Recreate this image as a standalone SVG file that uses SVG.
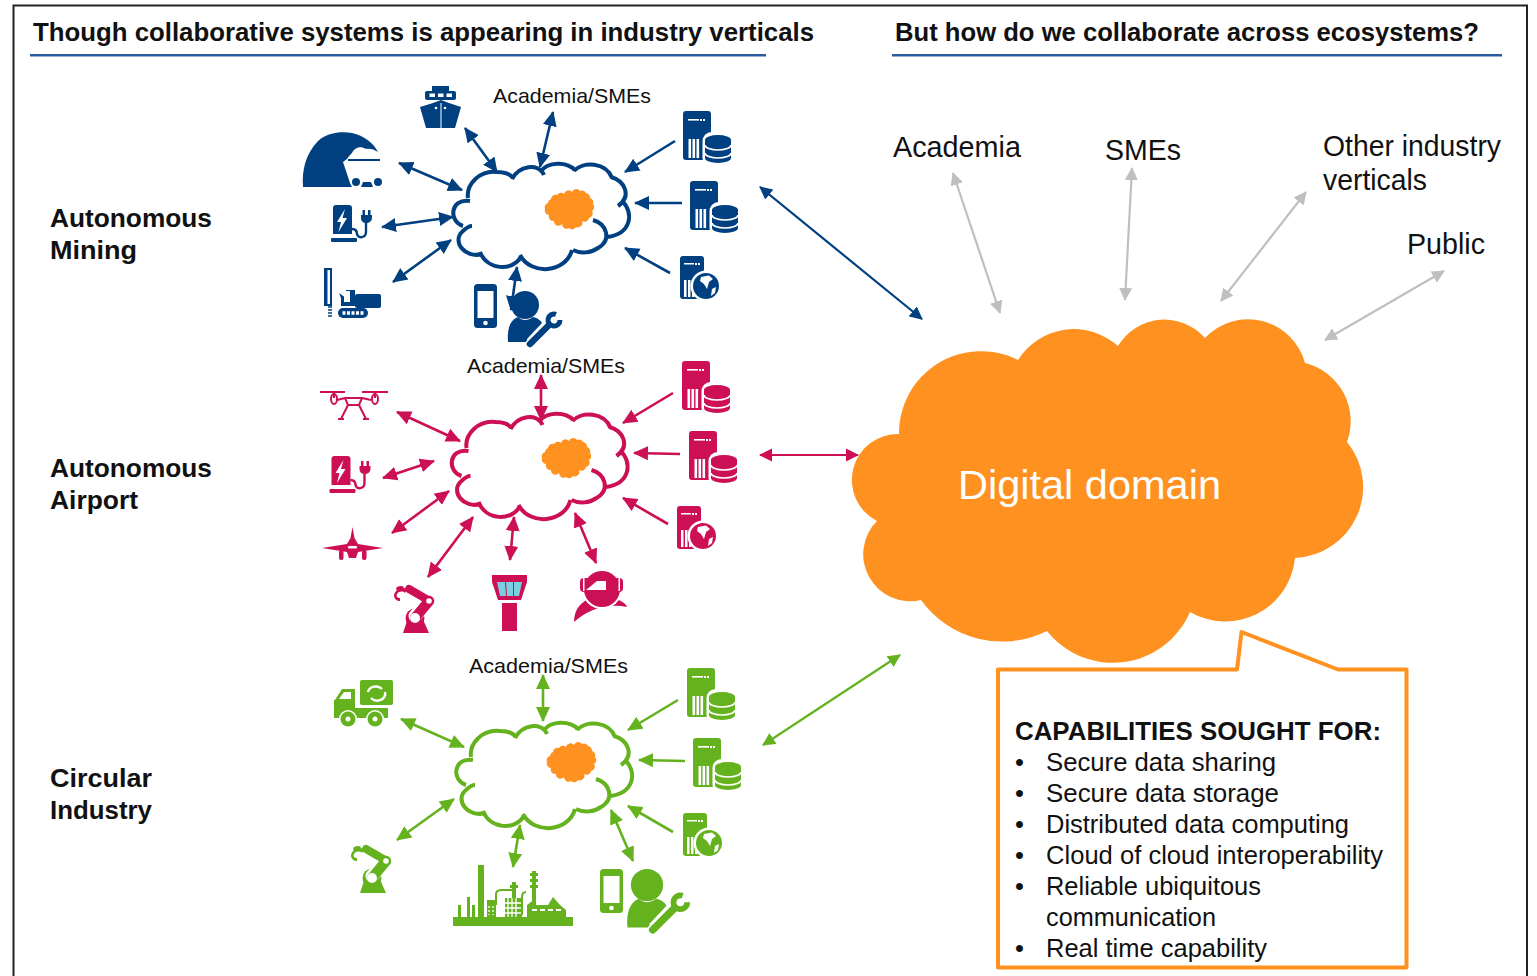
<svg xmlns="http://www.w3.org/2000/svg" width="1537" height="976" viewBox="0 0 1537 976">
<style>
text{font-family:"Liberation Sans",Arial,sans-serif;fill:#111}
.h{font-weight:700;font-size:26px}
.l{font-weight:700;font-size:25.5px}
.s{font-size:21px}
.m{font-size:29px}
.c{font-size:25.5px}
.navy{color:#004080}.pink{color:#cd0f55}.green{color:#65b21f}
.f{fill:currentColor}.w{fill:#fff}
.a{stroke-width:2.6;fill:none}
.b{stroke-width:2.2}
.an{stroke:#004080}.ap{stroke:#cd0f55}.ag{stroke:#65b21f}.ay{stroke:#bfbfbf}
</style>
<defs>
<marker id="mn" viewBox="0 0 16 16" markerWidth="16" markerHeight="16" markerUnits="userSpaceOnUse" refX="14" refY="8" orient="auto-start-reverse"><path d="M0,1L15,8L0,15Z" fill="#004080"/></marker>
<marker id="mp" viewBox="0 0 16 16" markerWidth="16" markerHeight="16" markerUnits="userSpaceOnUse" refX="14" refY="8" orient="auto-start-reverse"><path d="M0,1L15,8L0,15Z" fill="#cd0f55"/></marker>
<marker id="mg" viewBox="0 0 16 16" markerWidth="16" markerHeight="16" markerUnits="userSpaceOnUse" refX="14" refY="8" orient="auto-start-reverse"><path d="M0,1L15,8L0,15Z" fill="#65b21f"/></marker>
<marker id="mnb" viewBox="0 0 14 14" markerWidth="14" markerHeight="14" markerUnits="userSpaceOnUse" refX="12" refY="7" orient="auto-start-reverse"><path d="M0,0.5L13,7L0,13.5Z" fill="#004080"/></marker>
<marker id="mpb" viewBox="0 0 14 14" markerWidth="14" markerHeight="14" markerUnits="userSpaceOnUse" refX="12" refY="7" orient="auto-start-reverse"><path d="M0,0.5L13,7L0,13.5Z" fill="#cd0f55"/></marker>
<marker id="mgb" viewBox="0 0 14 14" markerWidth="14" markerHeight="14" markerUnits="userSpaceOnUse" refX="12" refY="7" orient="auto-start-reverse"><path d="M0,0.5L13,7L0,13.5Z" fill="#65b21f"/></marker>
<marker id="my" viewBox="0 0 14 14" markerWidth="14" markerHeight="14" markerUnits="userSpaceOnUse" refX="12" refY="7" orient="auto-start-reverse"><path d="M0,0.5L13,7L0,13.5Z" fill="#bfbfbf"/></marker>
<g id="srv">
<rect width="28" height="49" rx="3" class="f"/>
<rect x="5" y="8" width="11" height="1.6" class="w"/><rect x="17" y="8" width="2" height="2" class="w"/><rect x="20" y="8" width="2" height="2" class="w"/>
<rect x="5.5" y="28" width="2.6" height="19" class="w"/><rect x="9.5" y="28" width="2.6" height="19" class="w"/><rect x="13.5" y="28" width="2.6" height="19" class="w"/>
</g>
<g id="srvdb">
<use href="#srv"/>
<rect x="19.5" y="21" width="31" height="35" rx="9" class="w"/>
<path d="M22,29a13,5 0 0 1 26,0V47a13,5 0 0 1 -26,0Z" class="f"/>
<path d="M22,34a13,5 0 0 0 26,0M22,42a13,5 0 0 0 26,0" fill="none" stroke="#fff" stroke-width="1.7"/>
</g>
<g id="srvglobe">
<rect width="24" height="43" rx="3" class="f"/>
<rect x="4" y="7" width="10" height="1.5" class="w"/><rect x="15" y="7" width="2" height="2" class="w"/><rect x="18" y="7" width="2" height="2" class="w"/>
<rect x="4" y="24" width="2.5" height="17" class="w"/><rect x="8" y="24" width="2.5" height="17" class="w"/><rect x="12" y="24" width="2.5" height="17" class="w"/>
<circle cx="26" cy="30" r="15.5" class="w"/><circle cx="26" cy="30" r="13" class="f"/>
<path d="M21,21L29,19.500L33,23L29,26L27,33L24,28L20,25Z M32,33L36,31L35,37L31,40Z" class="w"/>
</g>
<g id="cl" fill="none" stroke="currentColor" stroke-width="4" stroke-linecap="butt">
<path d="M468,198C466,184 480,170 497,172C504,172 510,174 513,178"/>
<path d="M512,179C519,166 538,162 544,175"/>
<path d="M541,171C548,162 566,161 575,170"/>
<path d="M574,171C583,161 606,162 612,178"/>
<path d="M611,177C625,181 632,196 618,206"/>
<path d="M622,201C634,212 632,234 607,237"/>
<path d="M593,220C607,224 612,240 598,248C591,253 581,254 573,250"/>
<path d="M572,250C566,273 531,276 520,255"/>
<path d="M521,257C512,272 487,270 480,252"/>
<path d="M482,254C465,259 451,241 463,231C466,228 469,226 472,226"/>
<path d="M463,226C449,222 449,198 470,201"/>
</g>
<path id="blob" fill="#ff9120" d="M6,8A4.5,4.5 0 0 1 12,4A4.5,4.5 0 0 1 19,3A4.5,4.5 0 0 1 27,1A4.5,4.5 0 0 1 35,0A4.5,4.5 0 0 1 41,2A4.5,4.5 0 0 1 45,7A4.5,4.5 0 0 1 48,13A4.5,4.5 0 0 1 47,20A4.5,4.5 0 0 1 44,27A4.5,4.5 0 0 1 37,30A4.5,4.5 0 0 1 31,36A4.5,4.5 0 0 1 24,37A4.5,4.5 0 0 1 17,33A4.5,4.5 0 0 1 9,30A4.5,4.5 0 0 1 4,24A4.5,4.5 0 0 1 0,18A4.5,4.5 0 0 1 3,12A4.5,4.5 0 0 1 6,8Z"/>
<g id="charger">
<path d="M2,3a3,3 0 0 1 3,-3H18a3,3 0 0 1 3,3V29H2Z" class="f"/>
<rect y="33" width="26" height="4" rx="1" class="f"/>
<path d="M14,4L6,17H10L7.500,27L16,13H11.500Z" class="w"/>
<path d="M21,24C25,24 26,26 26,29C27,34 35,33 35,27V18" fill="none" stroke="currentColor" stroke-width="2.400"/>
<path d="M30,10H41V13C41,16 38,18 35.500,18C32,18 30,16 30,13Z" class="f"/>
<rect x="31.500" y="5" width="2.500" height="6" class="f"/><rect x="37" y="5" width="2.500" height="6" class="f"/>
</g>
<g id="phone">
<rect width="23" height="44" rx="3.500" class="f"/>
<rect x="3.500" y="7" width="16" height="27" class="w"/>
<circle cx="11.500" cy="39" r="2.300" class="w"/>
</g>
<g id="worker">
<circle r="14" class="f"/>
<path d="M-17,37C-18,24 -15,15 -7,12C-3,16 3,16 8,12C13,13 16,16 17,18L2,34L3,37Z" class="f"/>
<path d="M31,9.400A6,6 0 1 0 35,15" fill="none" stroke="#fff" stroke-width="8"/>
<path d="M5,39L24,20" stroke="#fff" stroke-width="9.500" stroke-linecap="round"/>
<path d="M5,39L24,20" stroke="currentColor" stroke-width="6.500" stroke-linecap="round"/>
<path d="M31,9.400A6,6 0 1 0 35,15" fill="none" stroke="currentColor" stroke-width="5"/>
</g>
<g id="robot">
<path d="M10,48L16,30H28L36,48Z" class="f"/>
<circle cx="22" cy="33" r="9.500" class="f"/>
<path d="M22,31L36,16L16,4" fill="none" stroke="#fff" stroke-width="13" stroke-linejoin="round" stroke-linecap="round"/>
<path d="M22,33L36,16" fill="none" stroke="currentColor" stroke-width="10.500" stroke-linecap="round"/>
<path d="M35,15L16,4" fill="none" stroke="currentColor" stroke-width="8" stroke-linecap="round"/>
<circle cx="22" cy="33" r="5" class="w"/><circle cx="36" cy="16" r="2.800" class="w"/>
<path d="M14,4C8,1 2,5 1,10C1,14 4,16 7,16L7,13C4,13 3,11 4,9C6,6 10,6 12,8Z" class="f"/>
<path d="M3,3C5,1 8,0 11,2L9,5C7,4 5,5 4,6Z" class="f"/>
</g>
</defs>
<rect width="1537" height="976" fill="#fff"/>
<path d="M13.500,976V5.500H1527V976" fill="none" stroke="#222" stroke-width="2"/>

<g id="header-left">
<text class="h" x="33" y="41" textLength="781" lengthAdjust="spacingAndGlyphs">Though collaborative systems is appearing in industry verticals</text>
<rect x="30" y="54" width="736" height="2.500" fill="#2a5c9e"/>
</g>
<g id="header-right">
<text class="h" x="895" y="41" textLength="584" lengthAdjust="spacingAndGlyphs">But how do we collaborate across ecosystems?</text>
<rect x="892" y="54" width="610" height="2.500" fill="#2a5c9e"/>
</g>

<g id="label-mining"><text class="l" x="50" y="227" textLength="162" lengthAdjust="spacingAndGlyphs">Autonomous</text><text class="l" x="50" y="259" textLength="87" lengthAdjust="spacingAndGlyphs">Mining</text></g>
<g id="label-airport"><text class="l" x="50" y="477" textLength="162" lengthAdjust="spacingAndGlyphs">Autonomous</text><text class="l" x="50" y="509" textLength="88" lengthAdjust="spacingAndGlyphs">Airport</text></g>
<g id="label-circular"><text class="l" x="50" y="787" textLength="102" lengthAdjust="spacingAndGlyphs">Circular</text><text class="l" x="50" y="819" textLength="102" lengthAdjust="spacingAndGlyphs">Industry</text></g>

<g id="connectors">
<g class="a an">
<line x1="399" y1="163" x2="462" y2="190" marker-start="url(#mn)" marker-end="url(#mn)"/>
<line x1="465" y1="128" x2="497" y2="172" marker-start="url(#mn)" marker-end="url(#mn)"/>
<line x1="553" y1="112" x2="540" y2="167" marker-start="url(#mn)" marker-end="url(#mn)"/>
<line x1="675" y1="141" x2="625" y2="172" marker-end="url(#mn)"/>
<line x1="682" y1="203" x2="635" y2="203" marker-end="url(#mn)"/>
<line x1="670" y1="273" x2="625" y2="248" marker-end="url(#mn)"/>
<line x1="382" y1="227" x2="453" y2="217" marker-start="url(#mn)" marker-end="url(#mn)"/>
<line x1="393" y1="282" x2="451" y2="240" marker-start="url(#mn)" marker-end="url(#mn)"/>
<line x1="517" y1="267" x2="511" y2="310" marker-start="url(#mn)" marker-end="url(#mn)"/>
<line class="b" x1="760" y1="187" x2="922" y2="319" marker-start="url(#mnb)" marker-end="url(#mnb)"/>
</g>
<g class="a ap">
<line x1="397" y1="412" x2="460" y2="441" marker-start="url(#mp)" marker-end="url(#mp)"/>
<line x1="541" y1="375" x2="541" y2="420" marker-start="url(#mp)" marker-end="url(#mp)"/>
<line x1="673" y1="393" x2="623" y2="423" marker-end="url(#mp)"/>
<line x1="680" y1="454" x2="634" y2="453" marker-end="url(#mp)"/>
<line x1="668" y1="524" x2="623" y2="498" marker-end="url(#mp)"/>
<line x1="383" y1="478" x2="434" y2="461" marker-start="url(#mp)" marker-end="url(#mp)"/>
<line x1="392" y1="533" x2="449" y2="491" marker-start="url(#mp)" marker-end="url(#mp)"/>
<line x1="428" y1="577" x2="473" y2="517" marker-start="url(#mp)" marker-end="url(#mp)"/>
<line x1="514" y1="517" x2="510" y2="560" marker-start="url(#mp)" marker-end="url(#mp)"/>
<line x1="575" y1="513" x2="596" y2="563" marker-start="url(#mp)" marker-end="url(#mp)"/>
<line class="b" x1="760" y1="455" x2="858" y2="455" marker-start="url(#mpb)" marker-end="url(#mpb)"/>
</g>
<g class="a ag">
<line x1="401" y1="719" x2="464" y2="747" marker-start="url(#mg)" marker-end="url(#mg)"/>
<line x1="543" y1="675" x2="543" y2="721" marker-start="url(#mg)" marker-end="url(#mg)"/>
<line x1="678" y1="700" x2="628" y2="730" marker-end="url(#mg)"/>
<line x1="685" y1="761" x2="639" y2="760" marker-end="url(#mg)"/>
<line x1="673" y1="832" x2="628" y2="806" marker-end="url(#mg)"/>
<line x1="397" y1="840" x2="454" y2="799" marker-start="url(#mg)" marker-end="url(#mg)"/>
<line x1="520" y1="825" x2="513" y2="867" marker-start="url(#mg)" marker-end="url(#mg)"/>
<line x1="611" y1="810" x2="633" y2="861" marker-start="url(#mg)" marker-end="url(#mg)"/>
<line class="b" x1="763" y1="745" x2="900" y2="655" marker-start="url(#mgb)" marker-end="url(#mgb)"/>
</g>
<g class="a ay">
<line class="b" x1="953" y1="173" x2="1000" y2="313" marker-start="url(#my)" marker-end="url(#my)"/>
<line class="b" x1="1132" y1="168" x2="1125" y2="300" marker-start="url(#my)" marker-end="url(#my)"/>
<line class="b" x1="1306" y1="192" x2="1221" y2="301" marker-start="url(#my)" marker-end="url(#my)"/>
<line class="b" x1="1444" y1="271" x2="1325" y2="340" marker-start="url(#my)" marker-end="url(#my)"/>
</g>
</g>

<g id="mining" class="navy">
<g id="mining-cloud"><use href="#cl"/><use href="#blob" x="545" y="191"/></g>
<g id="mining-mine">
<path d="M303,187C302,170 305,155 318,141C327,133 340,131 352,133C364,136 373,142 378,152C374,149 369,148 366,149C360,145 354,148 352,153C350,155 348,157 347,159L343,162L350,183L352,187Z" class="f"/>
<rect x="348" y="159" width="32" height="2" class="f"/>
<circle cx="356" cy="182" r="4" class="f"/><circle cx="378" cy="182" r="4" class="f"/>
<path d="M363,182H371L373,187H361Z" class="f"/>
</g>
<g id="mining-ship">
<path d="M420,107L433,103L441,100L449,103L461,107L455,128H426Z" class="f"/>
<rect x="425" y="91" width="31" height="9" rx="2" class="f"/><rect x="432" y="86" width="17" height="6" class="f"/>
<rect x="429.500" y="93.500" width="5.500" height="3.500" class="w"/><rect x="438" y="93.500" width="5.500" height="3.500" class="w"/><rect x="446.500" y="93.500" width="5.500" height="3.500" class="w"/>
<rect x="440.500" y="103" width="1" height="25" class="w"/><circle cx="436" cy="108" r="1.300" class="w"/><circle cx="445" cy="108" r="1.300" class="w"/>
</g>
<use id="mining-charger" href="#charger" x="331" y="205"/>
<g id="mining-rig">
<rect x="324" y="268" width="8" height="38" class="f"/><rect x="327.500" y="270" width="2.500" height="34" class="w"/>
<path d="M328,307H332M328,310H332M328,313H332M328,316H332" stroke="currentColor" stroke-width="1.500"/>
<path d="M339,293L346,298V290H355V306H341V298Z" class="f"/><rect x="344" y="291" width="6" height="11" class="w"/>
<rect x="355" y="294" width="26" height="14" rx="2" class="f"/>
<rect x="338" y="308" width="30" height="10" rx="5" class="f"/>
<path d="M342.500,313H364" stroke="#fff" stroke-width="3.500" stroke-dasharray="3 1.500"/>
</g>
<use id="mining-phone" href="#phone" x="474" y="284"/>
<use id="mining-worker" href="#worker" x="525" y="305"/>
<use id="mining-db1" href="#srvdb" x="683" y="111"/>
<use id="mining-db2" href="#srvdb" x="690" y="181"/>
<use id="mining-web" href="#srvglobe" x="680" y="256"/>
<text id="mining-acad" class="s" x="493" y="103" textLength="158" lengthAdjust="spacingAndGlyphs">Academia/SMEs</text>
</g>

<g id="airport" class="pink">
<g id="airport-cloud"><use href="#cl" x="-1.500" y="250"/><use href="#blob" x="542" y="440"/></g>
<g id="airport-drone" fill="none" stroke="currentColor" stroke-width="2">
<path d="M320,392H345M362,392H388" stroke-width="2.200"/>
<path d="M334,392V398M375,392V398"/>
<ellipse cx="334" cy="399" rx="3" ry="5"/><ellipse cx="375" cy="399" rx="3" ry="5"/>
<path d="M337,400L345,398H362L371,400M345,398L348,405H359L362,398M348,405L341,419M359,405L366,419M338,419H344M363,419H369"/>
</g>
<use id="airport-charger" href="#charger" x="329.500" y="456"/>
<g id="airport-plane">
<path d="M352.500,527L354.500,538L358,544L383,548L358,552L356,558H349L347,552L322,548L347,544L350.500,538Z" class="f"/>
<rect x="339" y="550" width="4.500" height="10" rx="2" class="f"/><rect x="362" y="550" width="4.500" height="10" rx="2" class="f"/>
<rect x="348" y="546" width="9" height="2.500" rx="1" class="w"/>
</g>
<use id="airport-robot" href="#robot" x="393" y="585"/>
<g id="airport-tower">
<path d="M492,575H527V582L521,600H498L492,582Z" class="f"/>
<path d="M497,582H505L506,596H500Z M506,582H513V596H507Z M514,582H522L519,596H514Z" fill="#7ad0e0"/>
<rect x="502" y="603" width="15" height="28" class="f"/>
</g>
<g id="airport-vr">
<path d="M574,622C574,608 582,602 590,598H613C620,600 626,603 627,607C605,603 588,610 574,622Z" class="f"/>
<circle cx="602" cy="589" r="20" class="w"/>
<circle cx="602" cy="589" r="18" class="f"/>
<rect x="580" y="578" width="43" height="14" rx="4" class="f"/>
<path d="M586,590L597,581H606V590Z" class="w"/>
<rect x="583" y="578" width="1.500" height="13" class="w"/><rect x="618.500" y="578" width="1.500" height="13" class="w"/>
</g>
<use id="airport-db1" href="#srvdb" x="682" y="361"/>
<use id="airport-db2" href="#srvdb" x="689" y="431"/>
<use id="airport-web" href="#srvglobe" x="677" y="506"/>
<text id="airport-acad" class="s" x="467" y="373" textLength="158" lengthAdjust="spacingAndGlyphs">Academia/SMEs</text>
</g>

<g id="circular" class="green">
<g id="circular-cloud"><use href="#cl" x="3" y="559"/><use href="#blob" x="547" y="744"/></g>
<g id="circular-truck">
<rect x="360" y="680" width="33" height="25" rx="2" class="f"/>
<path d="M368,692A8,7 0 0 1 382,689M385,692A8,7 0 0 1 371,698" fill="none" stroke="#fff" stroke-width="2.500"/>
<path d="M335,700L342,689H355V708H388V718H334V700Z" class="f"/><path d="M339,699L344,692H351V699Z" class="w"/>
<circle cx="348" cy="719" r="9" class="w"/><circle cx="348" cy="719" r="7.500" class="f"/><circle cx="348" cy="719" r="2.500" class="w"/>
<circle cx="375" cy="719" r="9" class="w"/><circle cx="375" cy="719" r="7.500" class="f"/><circle cx="375" cy="719" r="2.500" class="w"/>
</g>
<use id="circular-robot" href="#robot" x="350" y="845"/>
<g id="circular-factory">
<rect x="453" y="917" width="120" height="9" class="f"/>
<rect x="478" y="865" width="6" height="52" class="f"/>
<rect x="467" y="897" width="3" height="20" class="f"/><rect x="472" y="905" width="3" height="12" class="f"/><rect x="458" y="905" width="3" height="12" class="f"/>
<rect x="487" y="900" width="9" height="17" class="f"/>
<path d="M496,905V894Q496,890 502,890H514V900" fill="none" stroke="currentColor" stroke-width="2"/>
<rect x="505" y="898" width="17" height="19" class="f"/>
<path d="M508,898V917M512,898V917M516,898V917M505,903H522M505,908H522M505,913H522" stroke="#fff" stroke-width="1.300"/>
<rect x="512" y="882" width="4" height="16" class="f"/><rect x="510" y="885" width="8" height="3" class="f"/>
<path d="M522,915V897Q522,892 526,892" fill="none" stroke="currentColor" stroke-width="2"/>
<rect x="532" y="871" width="4" height="35" class="f"/><rect x="530" y="873" width="8" height="3" class="f"/><rect x="530" y="879" width="8" height="3" class="f"/><rect x="530" y="885" width="8" height="3" class="f"/>
<path d="M527,917V905L535,899V905H548L553,897L560,905L566,910V917Z" class="f"/>
<path d="M532,910H537M540,910H545M548,910H553M556,910H561" stroke="#fff" stroke-width="2"/>
<path d="M489,906V915M493,906V915" stroke="#fff" stroke-width="1.300" stroke-dasharray="2 2"/>
</g>
<use id="circular-phone" href="#phone" x="600" y="869"/>
<use id="circular-worker" href="#worker" transform="translate(647,885) scale(1.150)"/>
<use id="circular-db1" href="#srvdb" x="687" y="668"/>
<use id="circular-db2" href="#srvdb" x="693" y="738"/>
<use id="circular-web" href="#srvglobe" x="683" y="813"/>
<text id="circular-acad" class="s" x="469" y="673" textLength="159" lengthAdjust="spacingAndGlyphs">Academia/SMEs</text>
</g>

<g id="digital-domain">
<path fill="#ff9120" d="M899,434A82,82 0 0 1 1018,360A66,66 0 0 1 1118,346A54,54 0 0 1 1205,338A59,59 0 0 1 1305,363A60,60 0 0 1 1347,442A71,71 0 0 1 1295,558A70,70 0 0 1 1190,612A84,84 0 0 1 1047,631A100,100 0 0 1 921,600A47,47 0 0 1 877,521A46,46 0 0 1 899,434Z"/>
<text x="958" y="499" font-size="41" textLength="263" lengthAdjust="spacingAndGlyphs" style="fill:#fff">Digital domain</text>
</g>

<g id="ecosystem-labels">
<text id="eco-academia" class="m" x="893" y="157" textLength="128" lengthAdjust="spacingAndGlyphs">Academia</text>
<text id="eco-smes" class="m" x="1105" y="160" textLength="76" lengthAdjust="spacingAndGlyphs">SMEs</text>
<text id="eco-other" class="m"><tspan x="1323" y="156" textLength="178" lengthAdjust="spacingAndGlyphs">Other industry</tspan><tspan x="1323" y="190" textLength="104" lengthAdjust="spacingAndGlyphs">verticals</tspan></text>
<text id="eco-public" class="m" x="1407" y="254" textLength="78" lengthAdjust="spacingAndGlyphs">Public</text>
</g>

<g id="capabilities">
<path d="M998,669.500H1237L1241.500,632L1338,669.500H1406.500V967.500H998Z" fill="#fff" stroke="#ff9120" stroke-width="4" stroke-linejoin="round"/>
<text x="1015" y="740" font-weight="700" font-size="25.500" textLength="366" lengthAdjust="spacingAndGlyphs">CAPABILITIES SOUGHT FOR:</text>
<text class="c" x="1015" y="771">•</text><text class="c" x="1046" y="771" textLength="230" lengthAdjust="spacingAndGlyphs">Secure data sharing</text>
<text class="c" x="1015" y="802">•</text><text class="c" x="1046" y="802" textLength="233" lengthAdjust="spacingAndGlyphs">Secure data storage</text>
<text class="c" x="1015" y="833">•</text><text class="c" x="1046" y="833" textLength="303" lengthAdjust="spacingAndGlyphs">Distributed data computing</text>
<text class="c" x="1015" y="864">•</text><text class="c" x="1046" y="864" textLength="337" lengthAdjust="spacingAndGlyphs">Cloud of cloud interoperability</text>
<text class="c" x="1015" y="895">•</text><text class="c" x="1046" y="895" textLength="215" lengthAdjust="spacingAndGlyphs">Reliable ubiquitous</text>
<text class="c" x="1046" y="926" textLength="170" lengthAdjust="spacingAndGlyphs">communication</text>
<text class="c" x="1015" y="957">•</text><text class="c" x="1046" y="957" textLength="221" lengthAdjust="spacingAndGlyphs">Real time capability</text>
</g>
</svg>
